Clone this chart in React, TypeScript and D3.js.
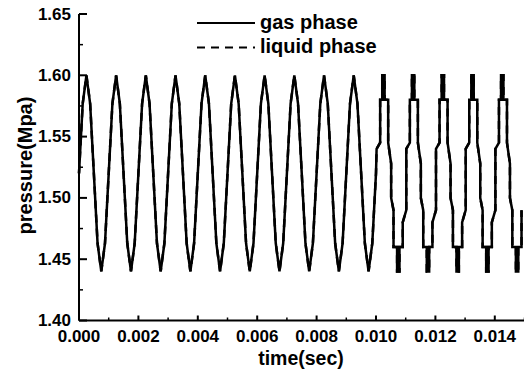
import React from "react";
import * as d3 from "d3";

// ---- data ----
// Gas phase, sampled every 0.000125 s from t = 0 to t = 0.0100
const sineStep = 0.000125;
const sineValues = [
  1.52, 1.577, 1.60, 1.577, 1.52, 1.463, 1.44, 1.463,
  1.52, 1.577, 1.60, 1.577, 1.52, 1.463, 1.44, 1.463,
  1.52, 1.577, 1.60, 1.577, 1.52, 1.463, 1.44, 1.463,
  1.52, 1.577, 1.60, 1.577, 1.52, 1.463, 1.44, 1.463,
  1.52, 1.577, 1.60, 1.577, 1.52, 1.463, 1.44, 1.463,
  1.52, 1.577, 1.60, 1.577, 1.52, 1.463, 1.44, 1.463,
  1.52, 1.577, 1.60, 1.577, 1.52, 1.463, 1.44, 1.463,
  1.52, 1.577, 1.60, 1.577, 1.52, 1.463, 1.44, 1.463,
  1.52, 1.577, 1.60, 1.577, 1.52, 1.463, 1.44, 1.463,
  1.52, 1.577, 1.60, 1.577, 1.52, 1.463, 1.44, 1.463,
  1.52,
];

// Stepped part after t = 0.010 s
const stepTimes = [
  0.01002, 0.01014, 0.01014, 0.01021, 0.01021, 0.01029, 0.01029,
  0.01041, 0.01041, 0.01051, 0.01051, 0.01059, 0.01059,
  0.01071, 0.01071, 0.01079, 0.01079,
  0.01090, 0.01090, 0.01102, 0.01102, 0.01114, 0.01114,
  0.01121, 0.01121, 0.01129, 0.01129,
  0.01141, 0.01141, 0.01151, 0.01151, 0.01159, 0.01159,
  0.01171, 0.01171, 0.01179, 0.01179,
  0.01190, 0.01190, 0.01202, 0.01202, 0.01214, 0.01214,
  0.01221, 0.01221, 0.01229, 0.01229,
  0.01241, 0.01241, 0.01251, 0.01251, 0.01259, 0.01259,
  0.01271, 0.01271, 0.01279, 0.01279,
  0.01290, 0.01290, 0.01302, 0.01302, 0.01314, 0.01314,
  0.01321, 0.01321, 0.01329, 0.01329,
  0.01341, 0.01341, 0.01351, 0.01351, 0.01359, 0.01359,
  0.01371, 0.01371, 0.01379, 0.01379,
  0.01390, 0.01390, 0.01402, 0.01402, 0.01414, 0.01414,
  0.01421, 0.01421, 0.01429, 0.01429,
  0.01441, 0.01441, 0.01451, 0.01451, 0.01459, 0.01459,
  0.01471, 0.01471, 0.01479, 0.01479,
  0.01490, 0.01490,
];
const stepValues = [
  1.54, 1.545, 1.58, 1.58, 1.60, 1.60, 1.58,
  1.58, 1.545, 1.528, 1.50, 1.49, 1.46,
  1.46, 1.44, 1.44, 1.46,
  1.46, 1.48, 1.49, 1.54, 1.545, 1.58,
  1.58, 1.60, 1.60, 1.58,
  1.58, 1.545, 1.528, 1.50, 1.49, 1.46,
  1.46, 1.44, 1.44, 1.46,
  1.46, 1.48, 1.49, 1.54, 1.545, 1.58,
  1.58, 1.60, 1.60, 1.58,
  1.58, 1.545, 1.528, 1.50, 1.49, 1.46,
  1.46, 1.44, 1.44, 1.46,
  1.46, 1.48, 1.49, 1.54, 1.545, 1.58,
  1.58, 1.60, 1.60, 1.58,
  1.58, 1.545, 1.528, 1.50, 1.49, 1.46,
  1.46, 1.44, 1.44, 1.46,
  1.46, 1.48, 1.49, 1.54, 1.545, 1.58,
  1.58, 1.60, 1.60, 1.58,
  1.58, 1.545, 1.528, 1.50, 1.49, 1.46,
  1.46, 1.44, 1.44, 1.46,
  1.46, 1.49,
];

const xTicks = [0, 0.002, 0.004, 0.006, 0.008, 0.01, 0.012, 0.014];
const xMinorTicks = [0.001, 0.003, 0.005, 0.007, 0.009, 0.011, 0.013, 0.015];
const yTicks = [1.4, 1.45, 1.5, 1.55, 1.6, 1.65];
const yMinorTicks = [1.425, 1.475, 1.525, 1.575, 1.625];
const seriesNames = ["gas phase", "liquid phase"];

const W = 524;
const H = 376;
const FONT = "'Liberation Sans', Arial, sans-serif";

export default function App() {
  const x = d3.scaleLinear().domain([0, 0.015]).range([79, 524.5]);
  const y = d3.scaleLinear().domain([1.4, 1.65]).range([320.5, 14]);

  const pts: [number, number][] = [];
  sineValues.forEach((v, i) => pts.push([i * sineStep, v]));
  stepTimes.forEach((t, i) => pts.push([t, stepValues[i]]));

  const line = d3
    .line<[number, number]>()
    .x((d) => x(d[0]))
    .y((d) => y(d[1]));
  const path = line(pts) || "";

  const x0 = x(0);
  const y0 = y(1.4);

  return (
    <svg
      width={W}
      height={H}
      style={{ position: "absolute", left: 0, top: 0, background: "#fff" }}
      fontFamily={FONT}
    >
      <rect width={W} height={H} fill="#fff" />
      {/* data */}
      <path d={path} fill="none" stroke="#000" strokeWidth={2.5} strokeLinejoin="miter" />
      <path d={path} fill="none" stroke="#000" strokeWidth={2.5} strokeDasharray="8,6" />

      {/* axes */}
      <line x1={x0} x2={x0} y1={y(1.65)} y2={y0} stroke="#000" strokeWidth={2} />
      <line x1={x0} x2={W} y1={y0} y2={y0} stroke="#000" strokeWidth={2} />
      {yTicks.map((t) => (
        <g key={"yt" + t}>
          <line x1={x0} x2={x0 + 8} y1={y(t)} y2={y(t)} stroke="#000" strokeWidth={2} />
          <text
            x={71}
            y={y(t)}
            textAnchor="end"
            dominantBaseline="central"
            fontSize={17}
            fontWeight="bold"
          >
            {t.toFixed(2)}
          </text>
        </g>
      ))}
      {yMinorTicks.map((t) => (
        <line key={"ym" + t} x1={x0} x2={x0 + 4} y1={y(t)} y2={y(t)} stroke="#000" strokeWidth={1.5} />
      ))}
      {xTicks.map((t) => (
        <g key={"xt" + t}>
          <line x1={x(t)} x2={x(t)} y1={y0} y2={y0 - 5} stroke="#000" strokeWidth={2} />
          <text x={x(t)} y={342} textAnchor="middle" fontSize={17} fontWeight="bold">
            {t.toFixed(3)}
          </text>
        </g>
      ))}
      {xMinorTicks.map((t) => (
        <line key={"xm" + t} x1={x(t)} x2={x(t)} y1={y0} y2={y0 - 3} stroke="#000" strokeWidth={1.5} />
      ))}

      {/* titles */}
      <text x={301} y={365} textAnchor="middle" fontSize={19.5} fontWeight="bold">
        time(sec)
      </text>
      <text
        transform="translate(32,165.5) rotate(-90)"
        textAnchor="middle"
        fontSize={20}
        fontWeight="bold"
      >
        pressure(Mpa)
      </text>

      {/* legend */}
      <line x1={197} x2={255} y1={23} y2={23} stroke="#000" strokeWidth={2} />
      <text x={260} y={29} fontSize={20} fontWeight="bold">
        {seriesNames[0]}
      </text>
      <line x1={197} x2={255} y1={47.5} y2={47.5} stroke="#000" strokeWidth={2} strokeDasharray="8,6" />
      <text x={260} y={53} fontSize={20} fontWeight="bold">
        {seriesNames[1]}
      </text>
    </svg>
  );
}
